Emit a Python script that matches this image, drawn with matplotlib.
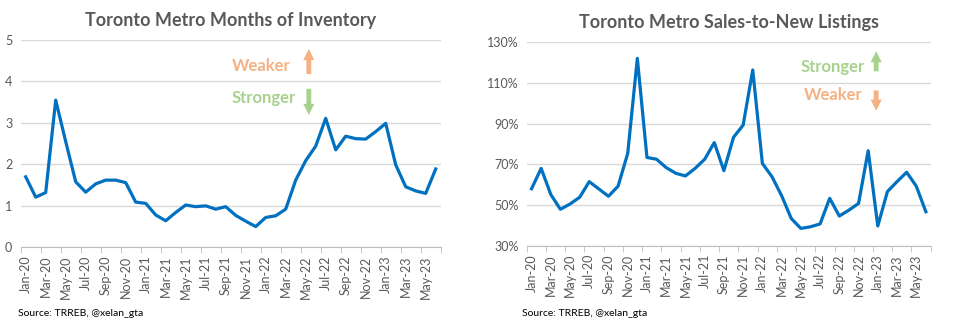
import numpy as np
import matplotlib.pyplot as plt
from matplotlib.patches import FancyArrowPatch

plt.rcParams['font.family'] = ['Lato', 'DejaVu Sans']

months = ['Jan-20', 'Feb-20', 'Mar-20', 'Apr-20', 'May-20', 'Jun-20', 'Jul-20', 'Aug-20',
          'Sep-20', 'Oct-20', 'Nov-20', 'Dec-20', 'Jan-21', 'Feb-21', 'Mar-21', 'Apr-21',
          'May-21', 'Jun-21', 'Jul-21', 'Aug-21', 'Sep-21', 'Oct-21', 'Nov-21', 'Dec-21',
          'Jan-22', 'Feb-22', 'Mar-22', 'Apr-22', 'May-22', 'Jun-22', 'Jul-22', 'Aug-22',
          'Sep-22', 'Oct-22', 'Nov-22', 'Dec-22', 'Jan-23', 'Feb-23', 'Mar-23', 'Apr-23',
          'May-23', 'Jun-23']

# months of inventory
moi = [1.70, 1.21, 1.32, 3.55, 2.55, 1.58, 1.33, 1.53, 1.62, 1.62, 1.56, 1.09,
       1.06, 0.78, 0.64, 0.84, 1.02, 0.98, 1.00, 0.92, 0.98, 0.77, 0.63, 0.50,
       0.72, 0.76, 0.92, 1.62, 2.09, 2.44, 3.11, 2.35, 2.68, 2.62, 2.61, 2.79,
       2.99, 1.99, 1.46, 1.36, 1.30, 1.89]

# sales-to-new-listings ratio, %
snlr = [58.0, 68.0, 55.2, 47.9, 50.5, 53.8, 61.5, 57.9, 54.3, 59.3, 75.4, 122.1,
        73.4, 72.5, 68.4, 65.6, 64.3, 68.0, 72.5, 80.7, 66.9, 83.3, 89.3, 116.4,
        70.5, 63.9, 54.6, 43.4, 38.5, 39.3, 40.7, 53.3, 44.6, 47.5, 50.8, 76.7,
        39.7, 56.6, 61.5, 66.1, 59.3, 46.7]

BLUE = '#0070C0'
GRAY = '#595959'
GRID = '#D9D9D9'
ORANGE = '#F4B183'
GREEN = '#A9D18E'

fig = plt.figure(figsize=(9.72, 3.26), dpi=100)
ax1 = fig.add_axes([0.0213, 0.2414, 0.4321, 0.6359])
ax2 = fig.add_axes([0.5419, 0.2463, 0.4156, 0.6239])

x = np.arange(len(months))


def style(ax, yticks, ylabels, title):
    ax.set_xlim(-0.5, len(months) - 0.5)
    ax.set_ylim(yticks[0], yticks[-1])
    ax.set_yticks(yticks)
    ax.set_yticklabels(ylabels, color=GRAY, fontsize=9)
    ax.tick_params(axis='y', length=0, pad=6)
    ax.set_xticks(x[::2])
    ax.set_xticklabels(months[::2], rotation=90, color=GRAY, fontsize=9)
    ax.tick_params(axis='x', which='major', length=0, pad=6)
    ax.set_xticks(np.arange(-0.5, len(months), 2), minor=True)
    ax.tick_params(axis='x', which='minor', length=4, color='#BFBFBF', direction='out')
    for s in ['top', 'right', 'left']:
        ax.spines[s].set_visible(False)
    ax.spines['bottom'].set_color('#BFBFBF')
    ax.grid(axis='y', color=GRID, linewidth=1)
    ax.set_axisbelow(True)
    ax.set_title(title, fontsize=13, fontweight='bold', color=GRAY, pad=10)


def arrow(ax, x, y0, y1, color):
    ax.add_patch(FancyArrowPatch((x, y0), (x, y1), transform=ax.transAxes,
                                 arrowstyle='simple,head_width=0.8,head_length=0.8,tail_width=0.35',
                                 mutation_scale=10, color=color, lw=0))


# left: months of inventory
ax1.plot(x, moi, color=BLUE, linewidth=2.3, solid_joinstyle='round')
style(ax1, [0, 1, 2, 3, 4, 5], ['0', '1', '2', '3', '4', '5'],
      'Toronto Metro Months of Inventory')
ax1.text(0.502, 0.875, 'Weaker', transform=ax1.transAxes, color=ORANGE,
         fontsize=12, fontweight='bold', va='center')
ax1.text(0.502, 0.719, 'Stronger', transform=ax1.transAxes, color=GREEN,
         fontsize=12, fontweight='bold', va='center')
arrow(ax1, 0.686, 0.823, 0.970, ORANGE)
arrow(ax1, 0.686, 0.778, 0.625, GREEN)

# right: sales-to-new-listings
ax2.plot(x, snlr, color=BLUE, linewidth=2.3, solid_joinstyle='round')
pct = [30, 50, 70, 90, 110, 130]
style(ax2, pct, [f'{p}%' for p in pct], 'Toronto Metro Sales-to-New Listings')
ax2.text(0.678, 0.880, 'Stronger', transform=ax2.transAxes, color=GREEN,
         fontsize=12, fontweight='bold', va='center')
ax2.text(0.686, 0.741, 'Weaker', transform=ax2.transAxes, color=ORANGE,
         fontsize=12, fontweight='bold', va='center')
arrow(ax2, 0.865, 0.844, 0.970, GREEN)
arrow(ax2, 0.865, 0.777, 0.650, ORANGE)

fig.text(18 / 972, 1 - 313 / 326, 'Source: TRREB, @xelan_gta', fontsize=7.5, va='center')
fig.text(522 / 972, 1 - 313 / 326, 'Source: TRREB, @xelan_gta', fontsize=7.5, va='center')

fig.savefig('out.png', dpi=100)
